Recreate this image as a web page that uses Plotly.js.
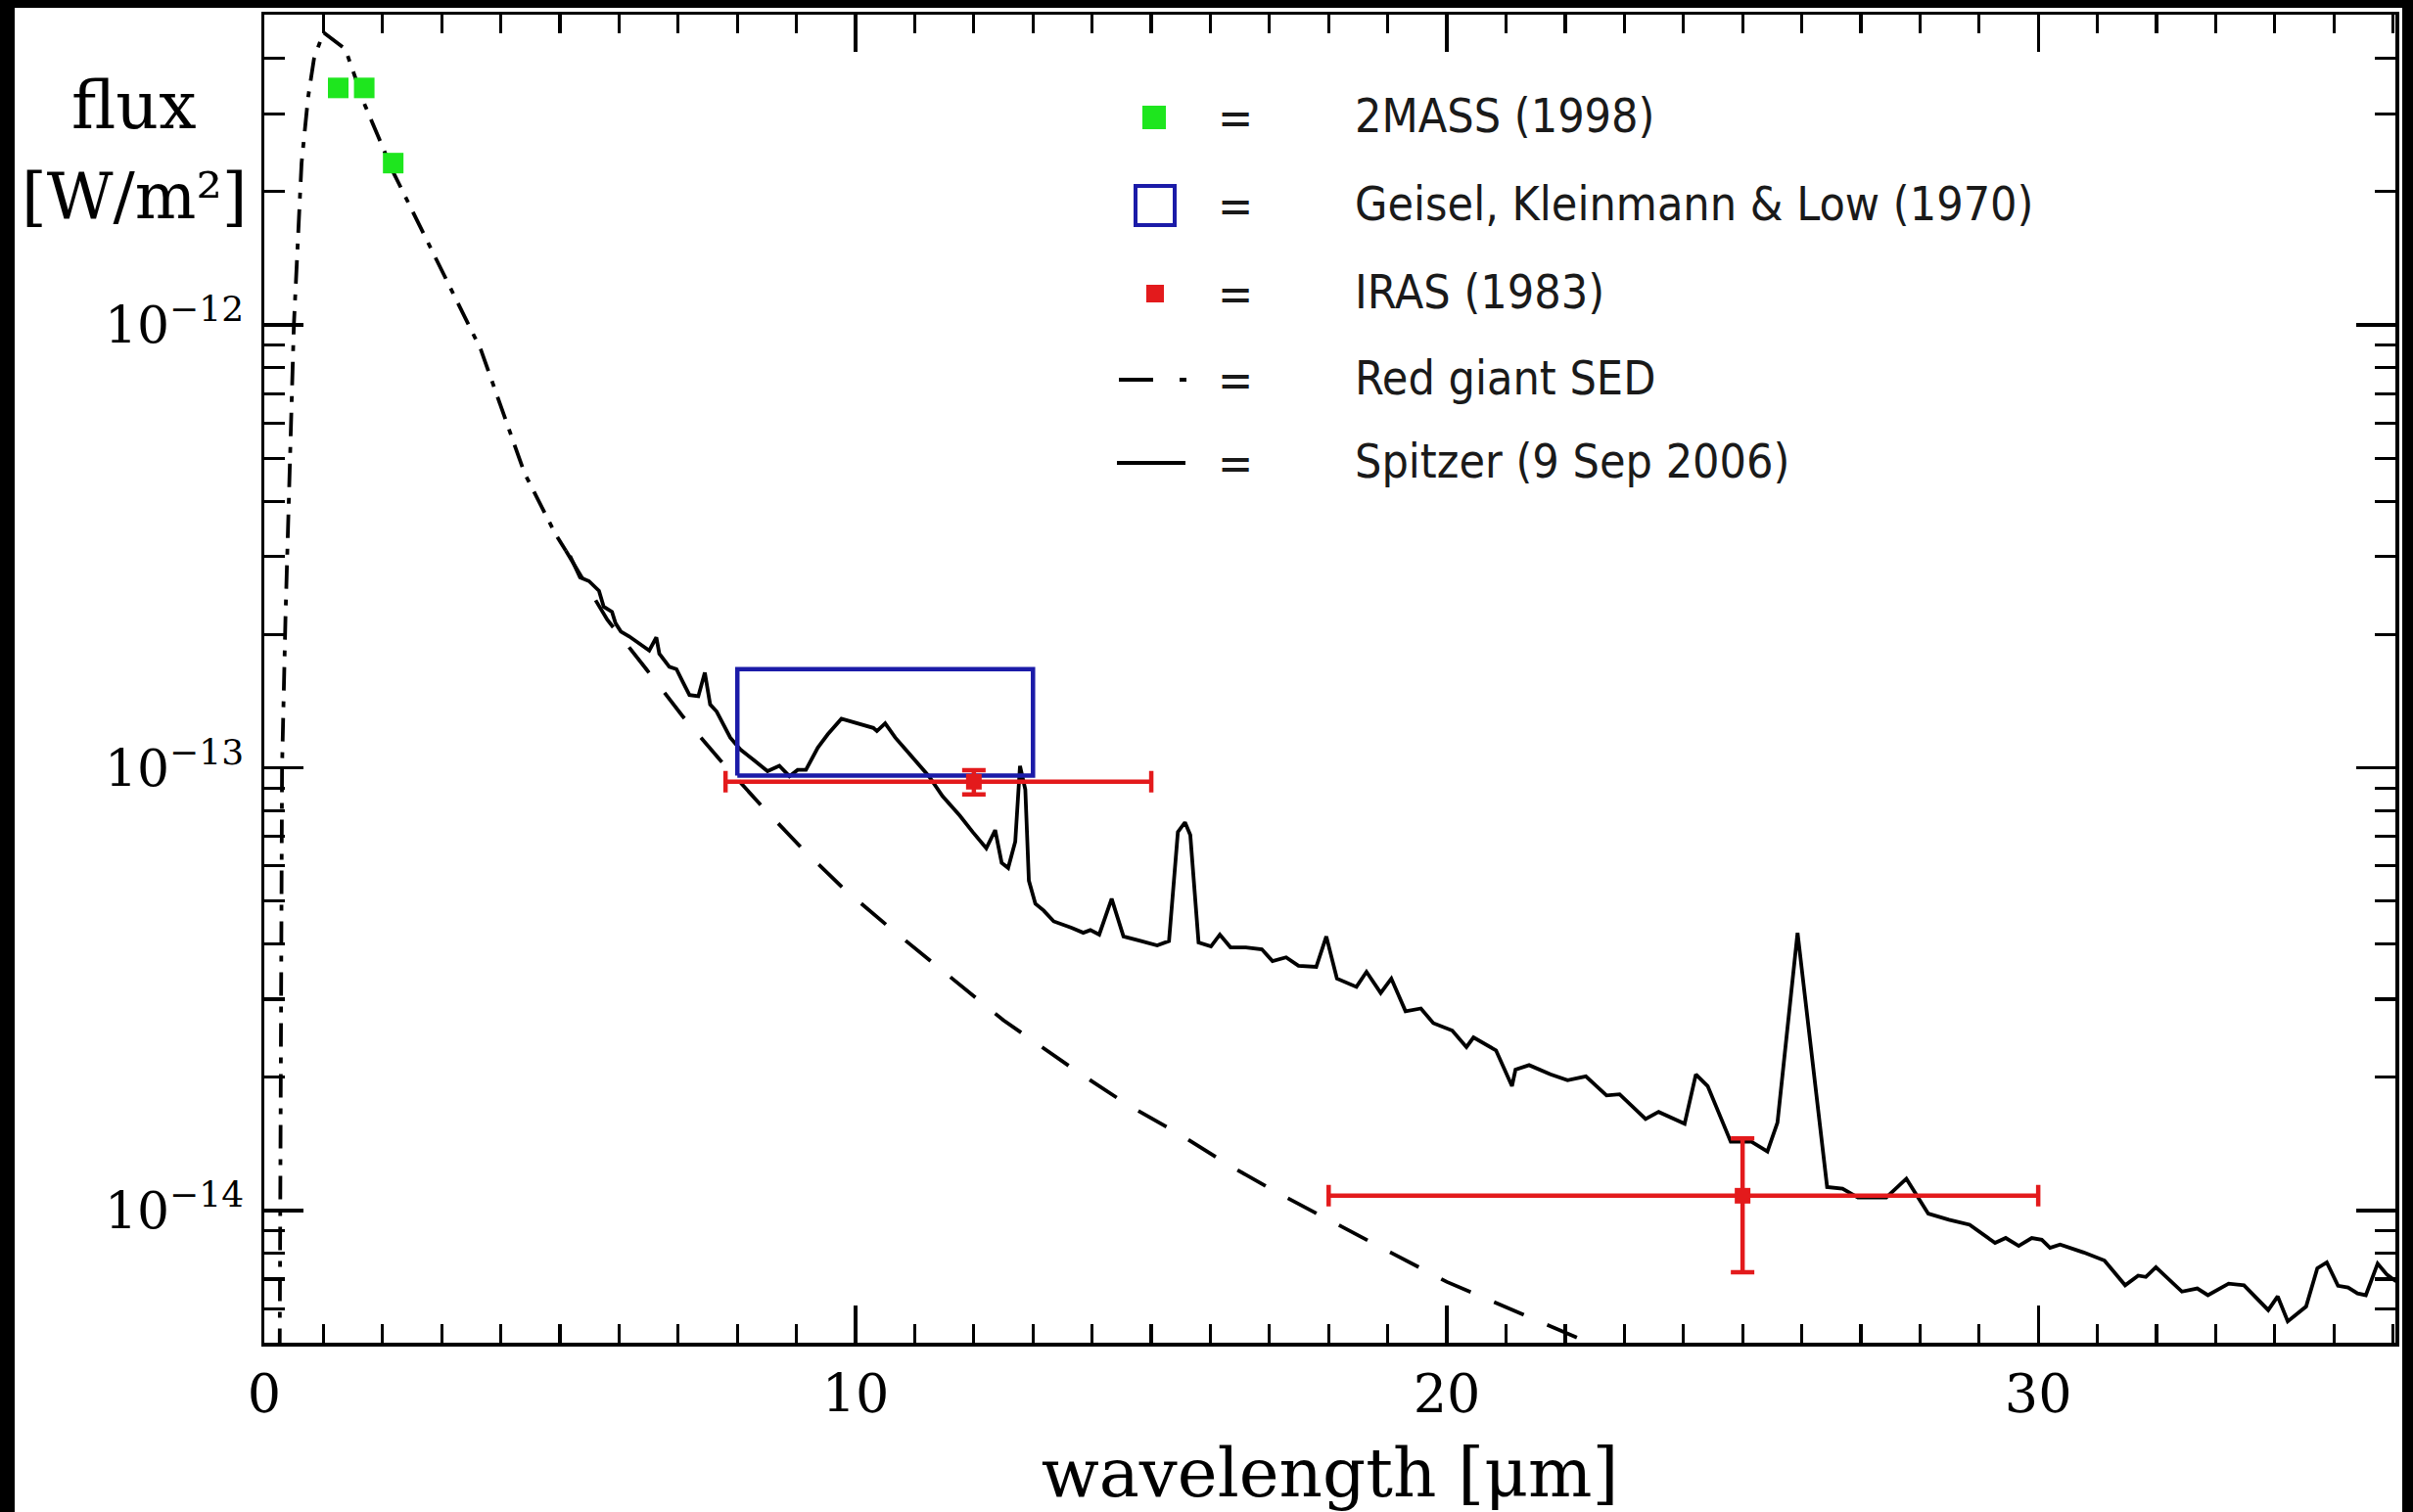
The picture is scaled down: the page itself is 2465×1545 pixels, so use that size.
<!DOCTYPE html>
<html><head><meta charset="utf-8">
<script src="https://cdn.plot.ly/plotly-3.0.1.min.js"></script>
<style>
html,body{margin:0;padding:0;background:#000;width:2465px;height:1545px;overflow:hidden}
#plot{position:absolute;left:15px;top:8px;width:2439px;height:1537px;background:#fff}
</style>
</head><body><div id="plot"></div><script>
// ---------- data ----------
const spitzerWavelength = [5.17,5.34,5.49,5.66,5.74,5.88,5.94,6.03,6.17,6.34,6.51,6.63,6.68,6.85,6.97,7.08,7.19,7.34,7.45,7.54,7.65,7.88,8.05,8.28,8.51,8.71,8.88,9.02,9.16,9.36,9.53,9.76,10.05,10.30,10.36,10.50,10.67,10.96,11.24,11.47,11.76,11.98,12.21,12.36,12.47,12.58,12.70,12.78,12.87,12.93,13.04,13.18,13.35,13.65,13.85,13.97,14.12,14.33,14.53,14.83,15.10,15.30,15.45,15.57,15.66,15.80,16.01,16.16,16.34,16.60,16.87,17.05,17.28,17.49,17.79,17.96,18.14,18.47,18.64,18.88,19.06,19.30,19.56,19.77,20.09,20.33,20.45,20.83,21.10,21.16,21.39,21.75,22.04,22.35,22.70,22.92,23.36,23.58,24.02,24.21,24.41,24.80,25.15,25.42,25.59,25.93,26.21,26.43,26.69,26.95,27.43,27.77,28.14,28.49,28.84,29.27,29.45,29.67,29.89,30.06,30.20,30.37,30.77,31.12,31.47,31.69,31.82,31.99,32.43,32.69,32.87,33.22,33.48,33.79,33.89,34.05,34.22,34.53,34.72,34.88,35.07,35.24,35.40,35.54,35.74,35.90,36.05];
const spitzerFlux = [3.01e-13,2.69e-13,2.64e-13,2.51e-13,2.31e-13,2.25e-13,2.12e-13,2.03e-13,1.98e-13,1.91e-13,1.84e-13,1.97e-13,1.81e-13,1.69e-13,1.67e-13,1.56e-13,1.46e-13,1.45e-13,1.64e-13,1.39e-13,1.34e-13,1.17e-13,1.10e-13,1.04e-13,9.82e-14,1.01e-13,9.57e-14,9.89e-14,9.89e-14,1.11e-13,1.19e-13,1.29e-13,1.26e-13,1.23e-13,1.21e-13,1.26e-13,1.17e-13,1.06e-13,9.57e-14,8.63e-14,7.80e-14,7.16e-14,6.58e-14,7.23e-14,6.10e-14,5.94e-14,6.81e-14,1.01e-13,8.93e-14,5.56e-14,4.93e-14,4.76e-14,4.50e-14,4.35e-14,4.24e-14,4.30e-14,4.20e-14,5.06e-14,4.16e-14,4.06e-14,3.97e-14,4.06e-14,7.16e-14,7.53e-14,7.05e-14,4.03e-14,3.95e-14,4.20e-14,3.93e-14,3.93e-14,3.89e-14,3.66e-14,3.73e-14,3.57e-14,3.55e-14,4.16e-14,3.34e-14,3.20e-14,3.46e-14,3.10e-14,3.34e-14,2.82e-14,2.86e-14,2.65e-14,2.55e-14,2.34e-14,2.46e-14,2.30e-14,1.91e-14,2.08e-14,2.13e-14,2.03e-14,1.97e-14,2.01e-14,1.82e-14,1.83e-14,1.61e-14,1.67e-14,1.57e-14,2.03e-14,1.91e-14,1.43e-14,1.43e-14,1.36e-14,1.58e-14,4.24e-14,2.01e-14,1.13e-14,1.12e-14,1.07e-14,1.07e-14,1.18e-14,9.84e-15,9.53e-15,9.29e-15,8.45e-15,8.67e-15,8.32e-15,8.67e-15,8.59e-15,8.24e-15,8.38e-15,8.04e-15,7.71e-15,6.78e-15,7.13e-15,7.08e-15,7.45e-15,6.56e-15,6.67e-15,6.44e-15,6.84e-15,6.78e-15,6.12e-15,5.96e-15,6.40e-15,5.62e-15,6.07e-15,7.41e-15,7.64e-15,6.76e-15,6.70e-15,6.50e-15,6.44e-15,7.59e-15,7.16e-15,6.92e-15];

// red giant SED: observed part (dash-dot) and extrapolation (dashed)
const sedWavelength = [0.26,0.27,0.28,0.30,0.36,0.42,0.50,0.63,0.74,0.84,1.00,1.37,1.70,2.19,2.92,3.66,4.40,4.92,5.10];
const sedFlux = [4.79e-15,1.0e-14,3.16e-14,1.0e-13,2.24e-13,4.27e-13,1.0e-12,2.32e-12,3.26e-12,3.99e-12,4.58e-12,4.20e-12,3.14e-12,2.20e-12,1.39e-12,8.81e-13,4.63e-13,3.38e-13,3.09e-13];
const sedExtWavelength = [5.10,5.80,6.46,7.07,7.71,8.41,9.09,9.82,10.58,11.36,12.50,13.77,14.61,15.47,16.34,17.23,18.10,19.05,20.00,21.00,21.95,22.60];
const sedExtFlux = [3.09e-13,2.16e-13,1.67e-13,1.31e-13,1.04e-13,8.20e-14,6.58e-14,5.30e-14,4.35e-14,3.57e-14,2.69e-14,2.05e-14,1.73e-14,1.49e-14,1.26e-14,1.08e-14,9.40e-15,8.04e-15,6.90e-15,6.05e-15,5.35e-15,4.90e-15];

const twomassWavelength = [1.25,1.69,2.18];
const twomassFlux = [3.43e-12,3.43e-12,2.32e-12];

const geiselWavelength = [8,13];
const geiselFlux = [9.6e-14,1.67e-13];

const irasWavelength = [12,25];
const irasFlux = [9.3e-14,1.08e-14];
const irasWaveMinus = [4.2,7];
const irasWavePlus = [3,5];
const irasFluxPlus = [5.8e-15,3.75e-15];
const irasFluxMinus = [5.9e-15,3.54e-15];

const xTickVals = [0,10,20,30];
const yTickVals = [1e-14,1e-13,1e-12];
const yTickExp = ['−14','−13','−12'];

const legendLabels = ['2MASS (1998)','Geisel, Kleinmann & Low (1970)','IRAS (1983)','Red giant SED','Spitzer (9 Sep 2006)'];
const yLabelLines = ['flux','[W/m²]'];
const xTitle = 'wavelength [μm]';

// ---------- styling ----------
const BLACK = '#000';
const GREEN = '#1ee61e';
const BLUE = '#1b1ba8';
const RED = '#e31a1c';
const SERIF = 'DejaVu Serif, serif';
const SANS = 'DejaVu Sans Condensed, DejaVu Sans, sans-serif';

// plot-area pixel geometry (page pixels)
const PL = 270, PR = 2447, PT = 15, PB = 1372;
const px = v => (v - PL) / (PR - PL);
const py = v => (PB - v) / (PB - PT);

const minorY = [];
for (let e = -15; e <= -12; e++) for (let m = 2; m <= 9; m++) {
  const v = m * Math.pow(10, e);
  if (v > 5e-15 && v < 5e-12) minorY.push(v);
}

const traces = [
  {x: sedWavelength, y: sedFlux, mode: 'lines', line: {color: BLACK, width: 3.8, dash: '24px,11px,6px,11px'}, showlegend: false, hoverinfo: 'skip'},
  {x: sedExtWavelength, y: sedExtFlux, mode: 'lines', line: {color: BLACK, width: 3.8, dash: '33px,26px'}, showlegend: false, hoverinfo: 'skip'},
  {x: spitzerWavelength, y: spitzerFlux, mode: 'lines', line: {color: BLACK, width: 3.8}, showlegend: false},
  {x: [geiselWavelength[0], geiselWavelength[1], geiselWavelength[1], geiselWavelength[0], geiselWavelength[0]],
   y: [geiselFlux[0], geiselFlux[0], geiselFlux[1], geiselFlux[1], geiselFlux[0]],
   mode: 'lines', line: {color: BLUE, width: 4.5}, showlegend: false},
  {x: twomassWavelength, y: twomassFlux, mode: 'markers', marker: {symbol: 'square', size: 21, color: GREEN}, showlegend: false},
  {x: irasWavelength, y: irasFlux, mode: 'markers', marker: {symbol: 'square', size: 16, color: RED},
   error_x: {type: 'data', symmetric: false, array: irasWavePlus, arrayminus: irasWaveMinus, color: RED, thickness: 4.5, width: 11},
   error_y: {type: 'data', symmetric: false, array: irasFluxPlus, arrayminus: irasFluxMinus, color: RED, thickness: 4.5, width: 12},
   showlegend: false}
];

// legend built from shapes + annotations
const rowY = [120, 210, 300, 388, 473];
const shapes = [
  {type: 'rect', xref: 'paper', yref: 'paper', x0: px(1167), x1: px(1191), y0: py(132), y1: py(108), fillcolor: GREEN, line: {width: 0}},
  {type: 'rect', xref: 'paper', yref: 'paper', x0: px(1160), x1: px(1200), y0: py(230), y1: py(190), fillcolor: 'rgba(0,0,0,0)', line: {color: BLUE, width: 4}},
  {type: 'rect', xref: 'paper', yref: 'paper', x0: px(1171), x1: px(1189), y0: py(309), y1: py(291), fillcolor: RED, line: {width: 0}},
  {type: 'line', xref: 'paper', yref: 'paper', x0: px(1143), x1: px(1213), y0: py(rowY[3]), y1: py(rowY[3]), line: {color: BLACK, width: 4, dash: '35px,27px,7px,100px'}},
  {type: 'line', xref: 'paper', yref: 'paper', x0: px(1141), x1: px(1211), y0: py(rowY[4]), y1: py(rowY[4]), line: {color: BLACK, width: 4}}
];
const annotations = [];
legendLabels.forEach((lab, i) => {
  annotations.push({xref: 'paper', yref: 'paper', x: px(1262), y: py(rowY[i]), xanchor: 'center', yanchor: 'middle',
    text: '=', showarrow: false, font: {family: SANS, size: 48, color: '#1a1a1a'}});
  annotations.push({xref: 'paper', yref: 'paper', x: px(1382), y: py(rowY[i] - 2), xanchor: 'left', yanchor: 'middle',
    text: lab.replace('&', '&amp;'), showarrow: false, font: {family: SANS, size: 48, color: '#1a1a1a'}});
});
annotations.push({xref: 'paper', yref: 'paper', x: px(137), y: py(108), xanchor: 'center', yanchor: 'middle',
  text: yLabelLines[0], showarrow: false, font: {family: SERIF, size: 68, color: BLACK}});
annotations.push({xref: 'paper', yref: 'paper', x: px(137), y: py(200), xanchor: 'center', yanchor: 'middle',
  text: yLabelLines[1], showarrow: false, font: {family: SERIF, size: 66, color: BLACK}});

const layout = {
  width: 2439, height: 1537,
  margin: {l: 255, r: 7, t: 7, b: 173, pad: 0},
  paper_bgcolor: '#fff', plot_bgcolor: '#fff',
  showlegend: false,
  font: {family: SERIF, color: BLACK},
  xaxis: {
    range: [0, 36.04], showgrid: false, zeroline: false,
    showline: true, linecolor: BLACK, linewidth: 3.5, mirror: 'ticks',
    ticks: 'inside', ticklen: 38, tickwidth: 3.2, tickcolor: BLACK,
    tickmode: 'array', tickvals: xTickVals, ticktext: xTickVals.map(String),
    tickfont: {family: SERIF, size: 54, color: BLACK}, ticklabelstandoff: 3,
    minor: {dtick: 1, ticks: 'inside', ticklen: 19, tickwidth: 3.2, tickcolor: BLACK, showgrid: false},
    title: {text: xTitle, font: {family: SERIF, size: 69, color: BLACK}, standoff: 52}
  },
  yaxis: {
    type: 'log', range: [Math.log10(5.03e-15), Math.log10(5.02e-12)],
    showgrid: false, zeroline: false,
    showline: true, linecolor: BLACK, linewidth: 3.5, mirror: 'ticks',
    ticks: 'inside', ticklen: 40, tickwidth: 3.2, tickcolor: BLACK,
    tickmode: 'array', tickvals: yTickVals,
    ticktext: yTickExp.map(e => '10<sup><span style="font-size:36px">' + e + '</span></sup>'),
    tickfont: {family: SERIF, size: 52, color: BLACK}, ticklabelstandoff: 7,
    minor: {tickmode: 'array', tickvals: minorY, ticks: 'inside', ticklen: 21, tickwidth: 3.2, tickcolor: BLACK, showgrid: false}
  },
  shapes: shapes,
  annotations: annotations
};

Plotly.newPlot('plot', traces, layout, {staticPlot: true, displayModeBar: false});
</script></body></html>
